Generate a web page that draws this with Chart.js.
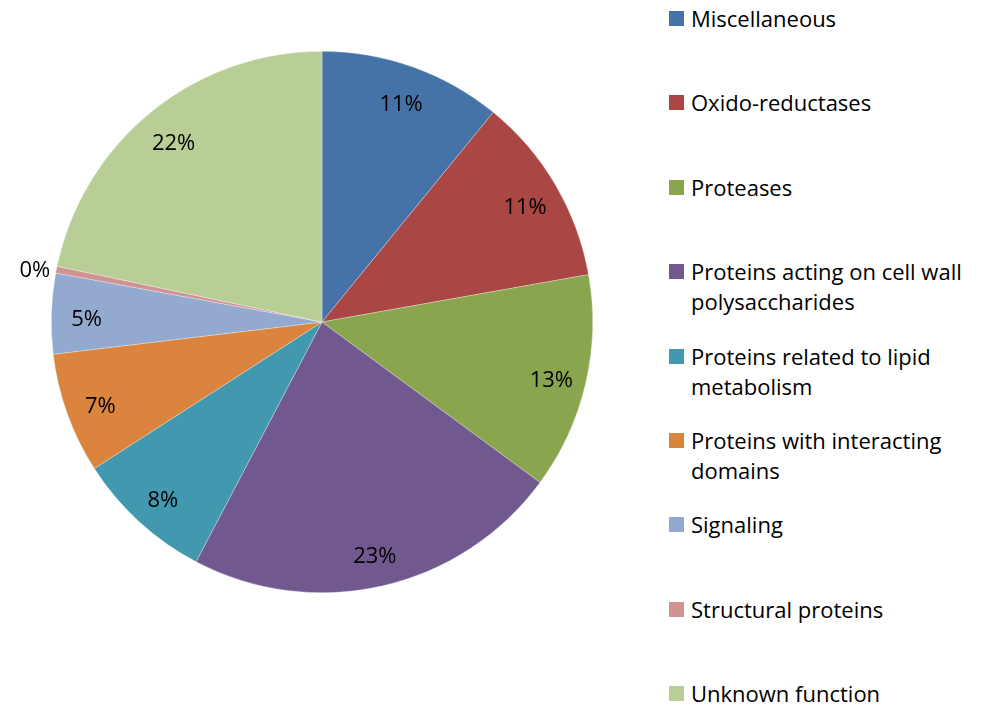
<!DOCTYPE html>
<html>
<head>
<meta charset="utf-8">
<script src="https://cdn.jsdelivr.net/npm/chart.js@4.4.0/dist/chart.umd.min.js"></script>
<style>
    body { margin: 0; background: #fff; }
    #wrap { position: relative; width: 998px; height: 705px; overflow: hidden; }
    #pieBox { position: absolute; left: 0; top: 0; width: 644px; height: 644px; }
    #legend { position: absolute; left: 669px; top: 0; width: 329px; }
    .item { position: absolute; left: 0; width: 329px; font-family: "Open Sans", sans-serif; font-size: 22px; line-height: 30px; color: #000; }
    .box { position: absolute; left: 0; top: 8px; width: 15px; height: 15px; }
    .txt { position: absolute; left: 22px; top: 0; width: 305px; }
</style>
</head>
<body>
<div id="wrap">
    <div id="pieBox"><canvas id="myChart"></canvas></div>
    <div id="legend"></div>
</div>
<script>
const categories = [
    'Miscellaneous',
    'Oxido-reductases',
    'Proteases',
    'Proteins acting on cell wall polysaccharides',
    'Proteins related to lipid metabolism',
    'Proteins with interacting domains',
    'Signaling',
    'Structural proteins',
    'Unknown function'
];
const shares = [10.9, 11.3, 12.9, 22.6, 8.2, 7.2, 4.8, 0.4, 21.7];
const colors = ['#4572A7', '#AA4643', '#89A54E', '#71588F', '#4198AF', '#DB843D', '#93A9CF', '#D19392', '#B9CD96'];

// legend on the right
const legend = document.getElementById('legend');
categories.forEach(function(name, i) {
    const item = document.createElement('div');
    item.className = 'item';
    item.style.top = (3 + i * 84.4) + 'px';
    item.innerHTML = '<span class="box" style="background:' + colors[i] + '"></span><span class="txt">' + name + '</span>';
    legend.appendChild(item);
});

const pctLabels = {
    id: 'pctLabels',
    afterDatasetsDraw(chart) {
        const ctx = chart.ctx;
        const meta = chart.getDatasetMeta(0);
        ctx.save();
        ctx.font = '22px "Open Sans", sans-serif';
        ctx.fillStyle = '#000';
        ctx.textAlign = 'center';
        ctx.textBaseline = 'middle';
        meta.data.forEach(function(arc, i) {
            const p = arc.getProps(['x', 'y', 'startAngle', 'endAngle', 'outerRadius'], true);
            const mid = (p.startAngle + p.endAngle) / 2;
            const r = shares[i] < 1 ? p.outerRadius + 22 : p.outerRadius * 0.87;
            const text = Math.round(shares[i]) + '%';
            ctx.fillText(text, p.x + Math.cos(mid) * r, p.y + Math.sin(mid) * r + 5);
        });
        ctx.restore();
    }
};

const ctx = document.getElementById('myChart').getContext('2d');
new Chart(ctx, {
    type: 'pie',
    data: {
        labels: categories,
        datasets: [{
            data: shares,
            backgroundColor: colors,
            borderColor: 'rgba(255, 255, 255, 0.6)',
            borderWidth: 0.5
        }]
    },
    options: {
        responsive: true,
        maintainAspectRatio: false,
        animation: false,
        layout: { padding: 51 },
        plugins: {
            legend: { display: false },
            tooltip: { enabled: false }
        }
    },
    plugins: [pctLabels]
});
</script>
</body>
</html>
